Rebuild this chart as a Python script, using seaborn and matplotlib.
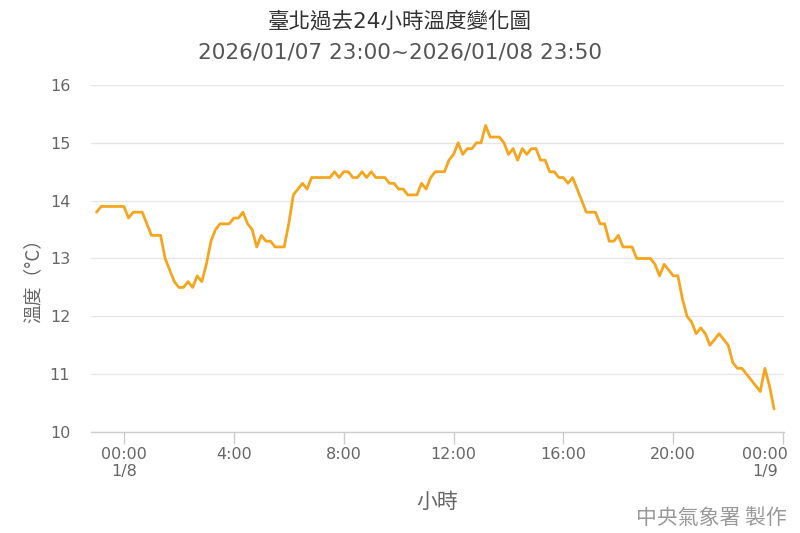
import matplotlib
matplotlib.use("Agg")
import matplotlib.pyplot as plt
import matplotlib.transforms as mtransforms
import numpy as np
import pandas as pd
import seaborn as sns

# ---- data (10-minute readings, Taipei, 2026/01/07 23:00 onward) ----
start_time = "2026-01-07 23:00"
temps = [
    13.8, 13.9, 13.9, 13.9, 13.9, 13.9, 13.9, 13.7, 13.8, 13.8,
    13.8, 13.6, 13.4, 13.4, 13.4, 13.0, 12.8, 12.6, 12.5, 12.5,
    12.6, 12.5, 12.7, 12.6, 12.9, 13.3, 13.5, 13.6, 13.6, 13.6,
    13.7, 13.7, 13.8, 13.6, 13.5, 13.2, 13.4, 13.3, 13.3, 13.2,
    13.2, 13.2, 13.6, 14.1, 14.2, 14.3, 14.2, 14.4, 14.4, 14.4,
    14.4, 14.4, 14.5, 14.4, 14.5, 14.5, 14.4, 14.4, 14.5, 14.4,
    14.5, 14.4, 14.4, 14.4, 14.3, 14.3, 14.2, 14.2, 14.1, 14.1,
    14.1, 14.3, 14.2, 14.4, 14.5, 14.5, 14.5, 14.7, 14.8, 15.0,
    14.8, 14.9, 14.9, 15.0, 15.0, 15.3, 15.1, 15.1, 15.1, 15.0,
    14.8, 14.9, 14.7, 14.9, 14.8, 14.9, 14.9, 14.7, 14.7, 14.5,
    14.5, 14.4, 14.4, 14.3, 14.4, 14.2, 14.0, 13.8, 13.8, 13.8,
    13.6, 13.6, 13.3, 13.3, 13.4, 13.2, 13.2, 13.2, 13.0, 13.0,
    13.0, 13.0, 12.9, 12.7, 12.9, 12.8, 12.7, 12.7, 12.3, 12.0,
    11.9, 11.7, 11.8, 11.7, 11.5, 11.6, 11.7, 11.6, 11.5, 11.2,
    11.1, 11.1, 11.0, 10.9, 10.8, 10.7, 11.1, 10.8, 10.4,
]
x_tick_hours = [0, 4, 8, 12, 16, 20, 24]
x_tick_labels = ["00:00\n1/8", "4:00", "8:00", "12:00", "16:00", "20:00", "00:00\n1/9"]
y_ticks = [10, 11, 12, 13, 14, 15, 16]
title_line1 = "臺北過去24小時溫度變化圖"
title_line2 = "2026/01/07 23:00~2026/01/08 23:50"
x_label = "小時"
y_label = "溫度（°C）"
credit = "中央氣象署 製作"

times = pd.date_range(start_time, periods=len(temps), freq="10min")
origin = pd.Timestamp("2026-01-08 00:00")
df = pd.DataFrame({
    "hour": (times - origin) / pd.Timedelta(hours=1),
    "temp": temps,
})

sns.set_theme(style="white")
plt.rcParams["font.family"] = ["DejaVu Sans", "Noto Sans CJK TC"]

fig = plt.figure(figsize=(8, 5.33), dpi=100)
ax = fig.add_axes([91 / 800, 1 - 432 / 533, (784 - 91) / 800, (432 - 85) / 533])

line_color = "#f3a61e"
sns.lineplot(data=df, x="hour", y="temp", ax=ax, color=line_color,
             linewidth=2.0, legend=False)

ax.set_xlim(-1.2, 24.03)
ax.set_ylim(10, 16)
ax.set_yticks(y_ticks)
ax.set_yticklabels([str(t) for t in y_ticks])
ax.set_xticks(x_tick_hours)
ax.set_xticklabels(x_tick_labels)

ax.yaxis.grid(True, color="#e6e6e6", linewidth=1.0)
ax.xaxis.grid(False)
for s in ["top", "right", "left"]:
    ax.spines[s].set_visible(False)
ax.spines["bottom"].set_color("#cccccc")
ax.spines["bottom"].set_linewidth(1.0)

ax.tick_params(axis="x", length=8.5, width=1.0, color="#cccccc", pad=2,
               labelsize=11.5, labelcolor="#666666", direction="out", bottom=True)
ax.tick_params(axis="y", length=0, pad=15, labelsize=11.5, labelcolor="#666666")

# keep the last (edge) tick label inside the figure, right-justified block
last = ax.get_xticklabels()[-1]
last.set_horizontalalignment("right")
last.set_multialignment("center")
last.set_transform(last.get_transform() +
                   mtransforms.ScaledTranslation(5 / 100, 0, fig.dpi_scale_trans))

ax.set_xlabel(x_label, fontsize=15, color="#666666",
              family=["Noto Sans CJK TC", "DejaVu Sans"])
ax.xaxis.set_label_coords(0.5, (432 - 502) / 347)
ax.xaxis.label.set_verticalalignment("center")

ax.set_ylabel(y_label, fontsize=13.5, color="#666666",
              family=["Noto Sans CJK TC", "DejaVu Sans"])
ax.yaxis.set_label_coords((33 - 91) / 693, (432 - 276) / 347)
ax.yaxis.label.set_verticalalignment("center")

fig.text(0.5, 1 - 21 / 533, title_line1, ha="center", va="center",
         fontsize=15.5, color="#333333",
         family=["DejaVu Sans", "Noto Sans CJK TC"])
fig.text(0.5, 1 - 52 / 533, title_line2, ha="center", va="center",
         fontsize=15.6, color="#555555")
fig.text(787 / 800, 1 - 518 / 533, credit, ha="right", va="center",
         fontsize=15, color="#999999",
         family=["Noto Sans CJK TC", "DejaVu Sans"])

fig.savefig("out.png", dpi=100)
